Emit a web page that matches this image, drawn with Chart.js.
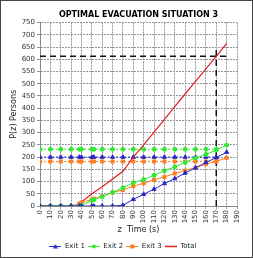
<!DOCTYPE html>
<html>
<head>
<meta charset="utf-8">
<script src="https://cdn.jsdelivr.net/npm/chart.js@4/dist/chart.umd.min.js"></script>
<style>
  html, body { margin: 0; padding: 0; background: #fff; }
  #frame { width: 253px; height: 258px; box-sizing: border-box; border: 1px solid #444; }
  canvas { display: block; }
</style>
</head>
<body>
<div id="frame"><canvas id="evacChart" width="251" height="256"></canvas></div>
<script>
// times (s) where the exit curves are sampled
const exitTimes = [0, 10, 20, 30, 38, 40, 50, 52, 60, 70, 80, 90, 100, 110, 120, 130, 140, 150, 160, 170, 180];
const exit1 = [0, 0, 0, 0, 0, 0, 0, 0, 0, 0, 3, 27, 48, 69, 92, 112, 135, 156, 178, 198, 220];
const exit2 = [0, 0, 0, 0, 0, 3, 23, 26, 38, 56, 75, 95, 108, 126, 144, 160, 178, 196, 211, 229, 249];
const exit3 = [0, 0, 0, 0, 10, 14, 27, 30, 40, 55, 66, 81, 93, 107, 119, 133, 145, 157, 171, 183, 197];

const totalTimes = [0, 10, 20, 30, 35, 40, 50, 60, 70, 80, 90, 100, 110, 120, 130, 140, 150, 160, 170, 180];
const total = [0, 0, 0, 0, 0, 16, 50, 79, 110, 142, 200, 250, 302, 354, 406, 458, 510, 561, 612, 665];

// exit capacity levels (dashed lines with markers)
const capTimes = [0, 10, 20, 30, 38, 40, 50, 52, 60, 70, 80, 90, 100, 110, 120, 130, 140, 150, 160, 170];
const cap1 = 200, cap2 = 232, cap3 = 182;

// black dashed guide lines
const guideTime = 170;
const guidePersons = 612;
const guideTop = 642;
const guideEnd = 180;

const seriesNames = ['Exit 1', 'Exit 2', 'Exit 3', 'Total'];
const colors = ['#2828c8', '#33e833', '#ff7d22', '#e02020'];
const markers = ['triangle', 'circle', 'rect', false];

function pts(xs, ys) {
    return xs.map((x, i) => ({ x: x, y: ys[i] }));
}

function flat(xs, v) {
    return xs.map(x => ({ x: x, y: v }));
}

function legendIcon(color, marker) {
    const c = document.createElement('canvas');
    c.width = 12; c.height = 7;
    const g = c.getContext('2d');
    g.strokeStyle = color; g.fillStyle = color; g.lineWidth = 1;
    g.beginPath(); g.moveTo(0, 3.5); g.lineTo(12, 3.5); g.stroke();
    if (marker === 'triangle') {
        g.beginPath(); g.moveTo(6, 1); g.lineTo(8.5, 5.5); g.lineTo(3.5, 5.5); g.closePath(); g.fill();
    } else if (marker === 'circle') {
        g.beginPath(); g.arc(6, 3.5, 2, 0, Math.PI * 2); g.fill();
    } else if (marker === 'rect') {
        g.fillRect(4, 1.5, 4, 4);
    } else {
        g.lineWidth = 1.5;
        g.beginPath(); g.moveTo(0, 3.5); g.lineTo(12, 3.5); g.stroke();
    }
    return c;
}

const ctx = document.getElementById('evacChart').getContext('2d');
const font = 'DejaVu Sans';

new Chart(ctx, {
    type: 'line',
    data: {
        datasets: [
            { label: seriesNames[0], data: pts(exitTimes, exit1), borderColor: colors[0], backgroundColor: colors[0],
              borderWidth: 1, pointStyle: 'triangle', pointRadius: 2.4 },
            { label: seriesNames[1], data: pts(exitTimes, exit2), borderColor: colors[1], backgroundColor: colors[1],
              borderWidth: 1, pointStyle: 'circle', pointRadius: 2 },
            { label: seriesNames[2], data: pts(exitTimes, exit3), borderColor: colors[2], backgroundColor: colors[2],
              borderWidth: 1, pointStyle: 'rect', pointRadius: 2.2 },
            { label: seriesNames[3], data: pts(totalTimes, total), borderColor: colors[3], backgroundColor: colors[3],
              borderWidth: 1.2, pointRadius: 0 },
            { label: 'cap1', data: flat(capTimes, cap1), borderColor: colors[0], backgroundColor: colors[0],
              borderWidth: 1, borderDash: [2, 2], pointStyle: 'triangle', pointRadius: 2.4 },
            { label: 'cap2', data: flat(capTimes, cap2), borderColor: colors[1], backgroundColor: colors[1],
              borderWidth: 1, borderDash: [2, 2], pointStyle: 'circle', pointRadius: 2 },
            { label: 'cap3', data: flat(capTimes, cap3), borderColor: colors[2], backgroundColor: colors[2],
              borderWidth: 1, borderDash: [2, 2], pointStyle: 'rect', pointRadius: 2.2 },
            { label: 'guideH', data: [{ x: 0, y: guidePersons }, { x: guideEnd, y: guidePersons }],
              borderColor: '#111', borderWidth: 1.5, borderDash: [6, 4], pointRadius: 0 },
            { label: 'guideV', data: [{ x: guideTime, y: 0 }, { x: guideTime, y: guideTop }],
              borderColor: '#111', borderWidth: 1.5, borderDash: [6, 4], pointRadius: 0 }
        ]
    },
    options: {
        responsive: false,
        animation: false,
        devicePixelRatio: 1,
        layout: { padding: { left: 8, right: 15, top: 0, bottom: -3 } },
        plugins: {
            title: {
                display: true,
                text: 'OPTIMAL EVACUATION SITUATION 3',
                fullSize: false,
                color: '#000',
                font: { family: font, size: 8, weight: 'bold' },
                padding: { top: 9, bottom: 3 }
            },
            legend: {
                position: 'bottom',
                labels: {
                    usePointStyle: true,
                    pointStyleWidth: 12,
                    boxHeight: 7,
                    padding: 3,
                    color: '#222',
                    font: { family: font, size: 7, lineHeight: 1.6 },
                    filter: item => item.datasetIndex < 4,
                    generateLabels: chart => {
                        const items = Chart.defaults.plugins.legend.labels.generateLabels(chart);
                        items.forEach(it => {
                            if (it.datasetIndex < 4) {
                                it.pointStyle = legendIcon(colors[it.datasetIndex], markers[it.datasetIndex]);
                            }
                        });
                        return items;
                    }
                }
            },
            tooltip: { enabled: false }
        },
        scales: {
            x: {
                type: 'linear',
                min: 0,
                max: 190,
                ticks: {
                    stepSize: 10,
                    autoSkip: false,
                    minRotation: 90,
                    maxRotation: 90,
                    padding: 1,
                    color: '#333',
                    font: { family: font, size: 7 }
                },
                grid: { color: '#959595', tickLength: 3 },
                border: { color: '#888', width: 1, dash: [2, 1] },
                title: {
                    display: true,
                    text: 'z  Time (s)',
                    color: '#222',
                    font: { family: font, size: 8 },
                    padding: { top: 2, bottom: 5 }
                },
                afterFit: scale => { scale.height = 34; }
            },
            y: {
                min: 0,
                max: 750,
                ticks: {
                    stepSize: 50,
                    padding: 2,
                    color: '#333',
                    font: { family: font, size: 7 }
                },
                grid: { color: '#959595', tickLength: 3 },
                border: { color: '#888', width: 1, dash: [2, 1] },
                title: {
                    display: true,
                    text: 'P(z) Persons',
                    color: '#222',
                    font: { family: font, size: 8 },
                    padding: { top: 0, bottom: 2 }
                },
                afterFit: scale => { scale.width = 31; }
            }
        }
    }
});
</script>
</body>
</html>
